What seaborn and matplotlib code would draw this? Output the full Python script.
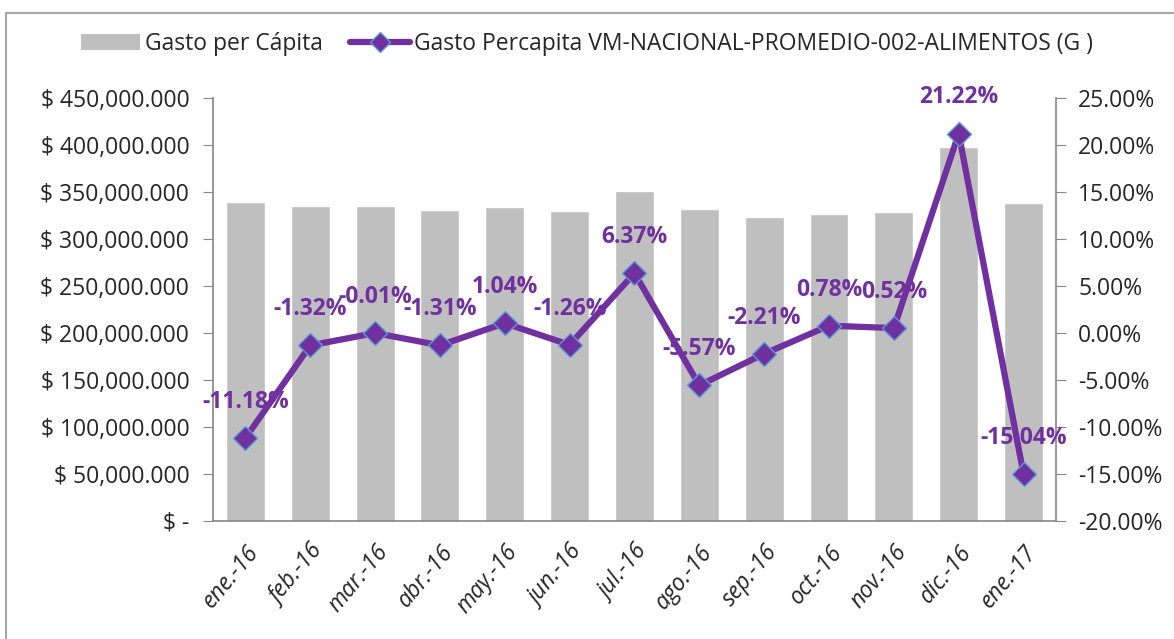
import matplotlib
matplotlib.use('Agg')
import matplotlib.pyplot as plt
import matplotlib.ticker as mticker
from matplotlib.lines import Line2D
from matplotlib.patches import Patch
import seaborn as sns
import pandas as pd

# datos
meses = ['ene.-16', 'feb.-16', 'mar.-16', 'abr.-16', 'may.-16', 'jun.-16', 'jul.-16',
         'ago.-16', 'sep.-16', 'oct.-16', 'nov.-16', 'dic.-16', 'ene.-17']
gasto = [339.6e6, 335.0e6, 334.7e6, 330.4e6, 334.0e6, 329.8e6, 350.7e6,
         331.5e6, 323.7e6, 326.6e6, 328.3e6, 398.0e6, 337.9e6]
variacion = [-11.18, -1.32, -0.01, -1.31, 1.04, -1.26, 6.37,
             -5.57, -2.21, 0.78, 0.52, 21.22, -15.04]

df = pd.DataFrame({'mes': meses, 'gasto': gasto, 'var': variacion})

sns.set_style('white')
plt.rcParams['font.family'] = ['Open Sans', 'DejaVu Sans']

morado = '#7030A0'
gris_eje = '#868686'

fig = plt.figure(figsize=(11.74, 6.39), dpi=100)
ax = fig.add_axes([0.1814, 0.1847, 0.8995 - 0.1814, 0.8466 - 0.1847])

sns.barplot(data=df, x='mes', y='gasto', color='#BFBFBF', width=0.6,
            saturation=1, ax=ax)
ax.set_ylim(0, 450e6)
ax.set_xlim(-0.5, 12.5)
ax.yaxis.set_major_locator(mticker.MultipleLocator(50e6))


def fmt_pesos(v, pos):
    if v == 0:
        return '$ -'
    return '$ ' + format(int(round(v / 1000)), ',') + '.000'


ax.yaxis.set_major_formatter(mticker.FuncFormatter(fmt_pesos))
ax.set_xlabel('')
ax.set_ylabel('')

ax2 = ax.twinx()
ax2.plot(range(len(meses)), df['var'], color=morado, lw=4.5, marker='D',
         markersize=12, markerfacecolor=morado, markeredgecolor='#5B9BD5',
         markeredgewidth=1, zorder=3)
ax2.set_ylim(-20, 25)
ax2.yaxis.set_major_locator(mticker.MultipleLocator(5))
ax2.yaxis.set_major_formatter(mticker.FuncFormatter(lambda v, p: f'{v:.2f}%'))

for i, v in enumerate(variacion):
    ax2.annotate(f'{v:.2f}%', (i, v), xytext=(0, 26), textcoords='offset points',
                 ha='center', va='center', color=morado, fontsize=16.5,
                 fontweight='bold')

# ejes y marcas
for a in (ax, ax2):
    for s in a.spines.values():
        s.set_visible(False)
ax.spines['left'].set_visible(True)
ax.spines['bottom'].set_visible(True)
ax2.spines['right'].set_visible(True)
for s in (ax.spines['left'], ax.spines['bottom'], ax2.spines['right']):
    s.set_color(gris_eje)
    s.set_linewidth(1.2)

ax.tick_params(axis='y', which='major', direction='out', length=7, color=gris_eje,
               labelsize=16.5, pad=10)
ax2.tick_params(axis='y', which='major', direction='out', length=7, color=gris_eje,
                labelsize=16.5, pad=9)
ax.set_xticks(range(len(meses)))
ax.set_xticklabels(meses, rotation=50, ha='right', rotation_mode='anchor',
                   fontsize=16.5, fontstyle='italic')
ax.tick_params(axis='x', which='major', length=0, pad=14)
ax.set_xticks([i - 0.5 for i in range(len(meses) + 1)], minor=True)
ax.tick_params(axis='x', which='minor', direction='out', length=7, color=gris_eje)

# leyenda
handles = [Patch(facecolor='#BFBFBF', edgecolor='none'),
           Line2D([0], [0], color=morado, lw=4.5, marker='D', markersize=10,
                  markerfacecolor=morado, markeredgecolor='#5B9BD5')]
fig.legend(handles, ['Gasto per Cápita',
                     'Gasto Percapita VM-NACIONAL-PROMEDIO-002-ALIMENTOS (G )'],
           loc='center', bbox_to_anchor=(0.5, 0.931), ncol=2, frameon=False,
           fontsize=16.5, handlelength=2.6, handletextpad=0.2, columnspacing=1.2)

# borde del area del grafico
fig.add_artist(Line2D([0.0055, 1.0], [0.979, 0.979], color='#A6A6A6', lw=1.5,
                      transform=fig.transFigure))
fig.add_artist(Line2D([0.0055, 0.0055], [0.0, 0.979], color='#A6A6A6', lw=1.5,
                      transform=fig.transFigure))

fig.savefig('out.png', dpi=100)
